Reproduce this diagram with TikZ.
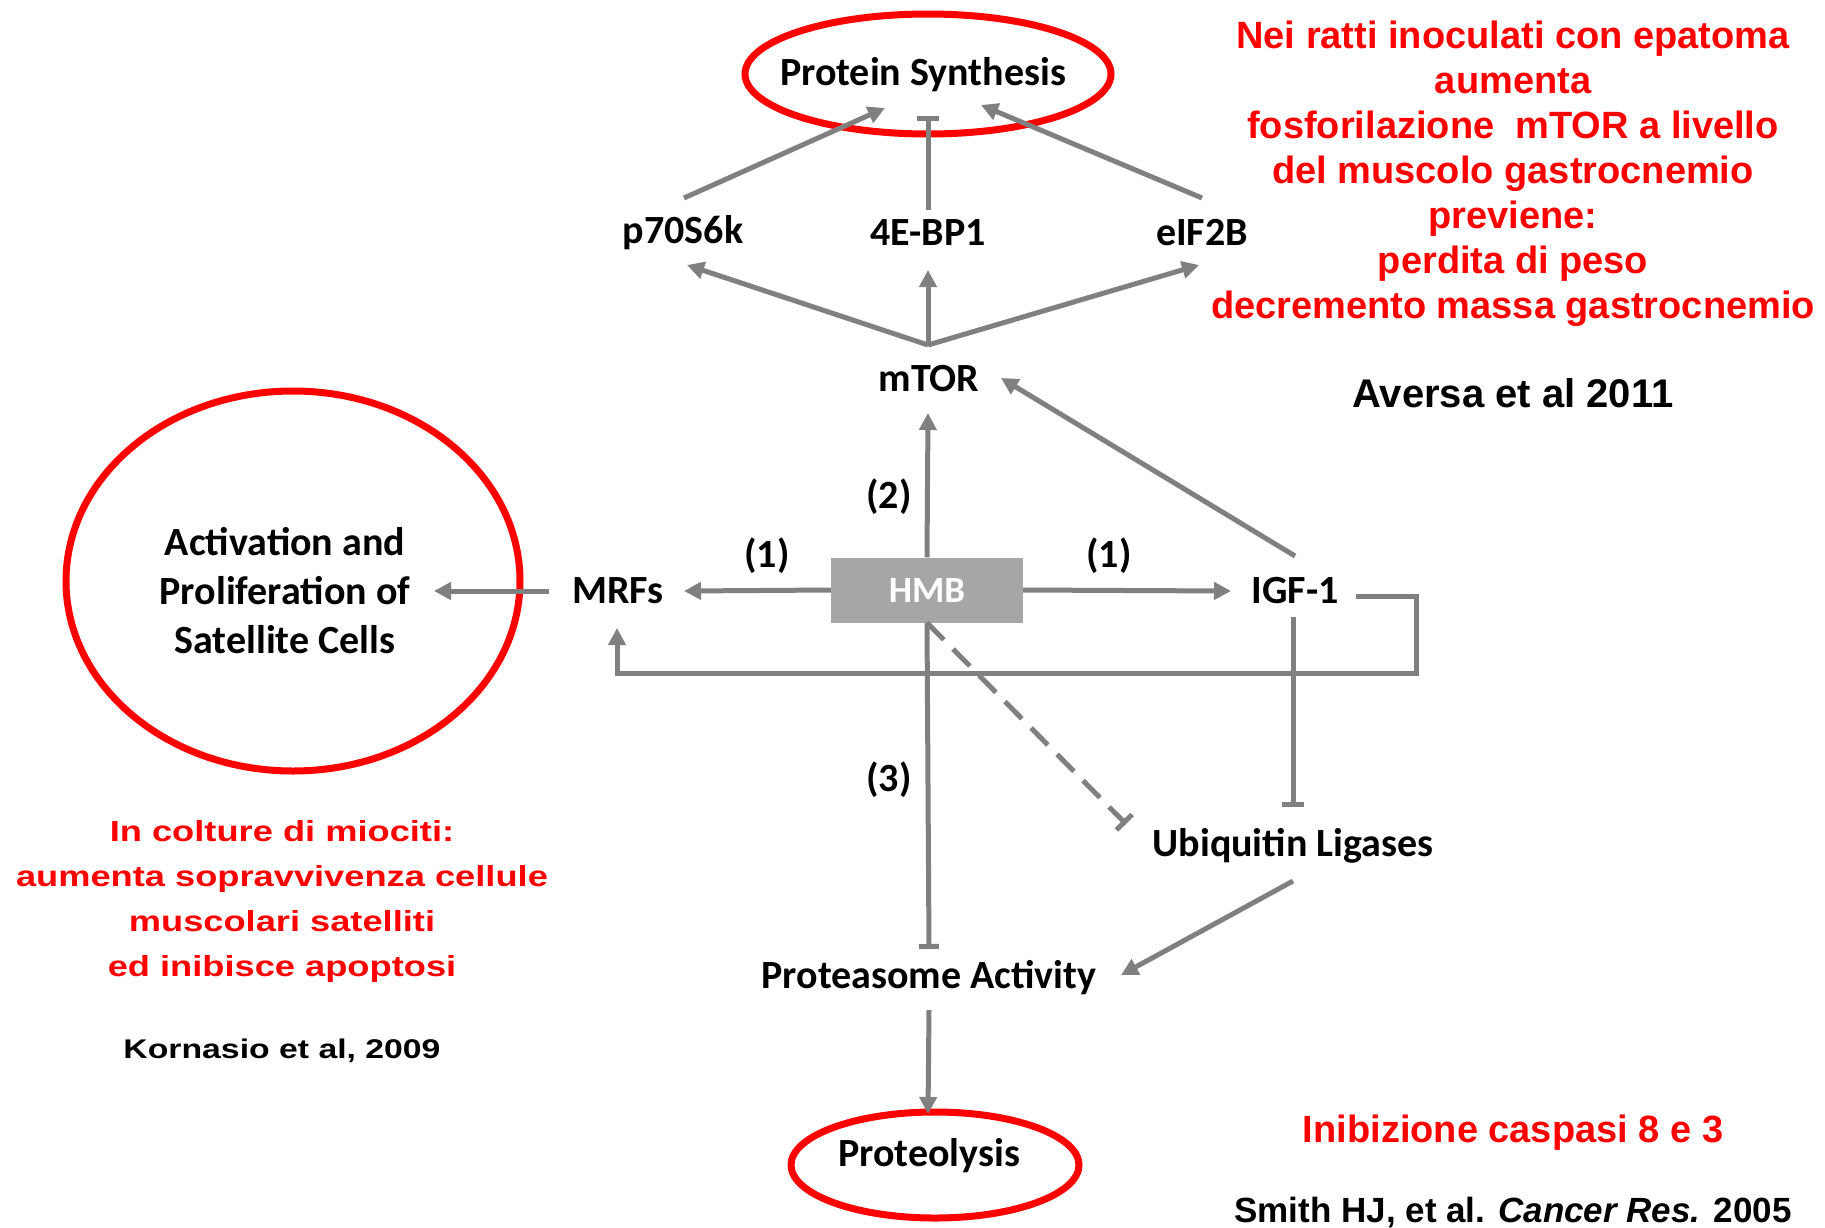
\documentclass[tikz,border=0pt]{standalone}
\usepackage{fontspec}
\setmainfont{Liberation Sans}
\newfontfamily\diagfont{Carlito}
\newfontfamily\widefont[FakeStretch=1.25]{Liberation Sans}
\usetikzlibrary{arrows.meta}
\definecolor{linkgray}{RGB}{128,128,128}
\definecolor{boxgray}{RGB}{166,166,166}

\begin{document}
\begin{tikzpicture}[
  x=1pt, y=-1pt,
  >={Triangle[length=17pt,width=17pt]},
  link/.style={draw=linkgray, line width=5pt},
  blunt/.style={link, -{Bar[width=22pt,line width=5pt]}},
  label/.style={font=\diagfont\bfseries\fontsize{40}{49}\selectfont, inner sep=0pt, align=center},
  hmbbox/.style={fill=boxgray, text=white, minimum width=192pt, minimum height=65pt,
    inner sep=0pt, font=\diagfont\bfseries\fontsize{37}{40}\selectfont},
  note/.style={font=\bfseries\fontsize{38}{45}\selectfont, text=red, align=center, inner sep=0pt},
  widenote/.style={font=\widefont\bfseries\fontsize{29}{45}\selectfont, text=red, align=center, inner sep=0pt},
  cite/.style={font=\bfseries\fontsize{40}{45}\selectfont, inner sep=0pt},
  ring/.style={draw=red, line width=7pt}
]
  \fill[white] (0,0) rectangle (1825,1227);
  \useasboundingbox (0,0) rectangle (1825,1227);

  % pathway nodes
  \node[label] (psyn) at (923,75) {Protein Synthesis};
  \node[label] (p70) at (683,233) {p70S6k};
  \node[label] (bp1) at (928,233) {4E-BP1};
  \node[label] (eif) at (1202,233) {eIF2B};
  \node[label] (mtor) at (929,379) {mTOR};
  \node[hmbbox] (hmb) at (927,590) {HMB};
  \node[label] (mrfs) at (618,591) {MRFs};
  \node[label] (igf) at (1295,591) {IGF-1};
  \node[label] (sat) at (285,591) {Activation and\\Proliferation of\\Satellite Cells};
  \node[label] (ubi) at (1293,846) {Ubiquitin Ligases};
  \node[label] (pasm) at (929,978) {Proteasome Activity};
  \node[label] (plys) at (929,1156) {Proteolysis};

  % numbered routes
  \node[label] (route1l) at (767,556) {(1)};
  \node[label] (route1r) at (1109,556) {(1)};
  \node[label] (route2) at (889,497) {(2)};
  \node[label] (route3) at (889,780) {(3)};

  % red rings
  \draw[ring] ([shift={(5,-1)}]psyn.center) ellipse [x radius=183pt, y radius=60pt];
  \draw[ring] ([shift={(8,-10)}]sat.center) ellipse [x radius=227pt, y radius=190pt];
  \draw[ring] ([shift={(6,9)}]plys.center) ellipse [x radius=144pt, y radius=53pt];

  % mTOR targets
  \coordinate (fork) at ([shift={(-1,-34)}]mtor.center);
  \draw[link,->] (fork) -- ([shift={(4,32)}]p70.center);
  \draw[link,->] (fork) -- ([shift={(0,37)}]bp1.center);
  \draw[link,->] (fork) -- ([shift={(-3,32)}]eif.center);
  \draw[link,->] ([shift={(1,-35)}]p70.center) -- ([shift={(-38,33)}]psyn.center);
  \draw[blunt] ([shift={(0,-23)}]bp1.center) -- ([shift={(5,41)}]psyn.center);
  \draw[link,->] ([shift={(0,-35)}]eif.center) -- ([shift={(58,30)}]psyn.center);

  % HMB routes
  \draw[link,->] (hmb.north) -- ([shift={(-1,34)}]mtor.center);
  \draw[link,->] (hmb.west) -- ([shift={(66,0)}]mrfs.center);
  \draw[link,->] (hmb.east) -- ([shift={(-64,0)}]igf.center);
  \draw[link,->] ([shift={(-69,0)}]mrfs.center) -- ([shift={(149,0)}]sat.center);
  \draw[link,->] ([shift={(0,-35)}]igf.center) -- ([shift={(72,-1)}]mtor.center);
  \draw[link,->] ([shift={(61,5)}]igf.center) -| ([shift={(121,82)}]igf.center)
    -| ([shift={(-1,37)}]mrfs.center);
  \draw[blunt] ([shift={(-2,26)}]igf.center) -- ([shift={(0,-39)}]ubi.center);
  \draw[blunt, dash pattern=on 24pt off 13pt] (hmb.south) -- ([shift={(-167,-22)}]ubi.center);
  \draw[link, -{Bar[width=20pt,line width=5pt]}] (hmb.south) -- ([shift={(0,-29)}]pasm.center);
  \draw[link,->] ([shift={(0,35)}]ubi.center) -- ([shift={(192,-3)}]pasm.center);
  \draw[link,->] ([shift={(0,32)}]pasm.center) -- ([shift={(-1,-42)}]plys.center);

  % annotations
  \node[note] (ratti) at (1513,174) {Nei ratti inoculati con epatoma\\aumenta\\fosforilazione\ \ mTOR a livello\\del muscolo gastrocnemio\\previene:\\perdita di peso\\decremento massa gastrocnemio};
  \node[cite] (aversa) at (1513,393) {Aversa et al 2011};
  \node[widenote] (colture) at (282,901) {In colture di miociti:\\aumenta sopravvivenza cellule\\muscolari satelliti\\ed inibisce apoptosi};
  \node[cite, font=\widefont\bfseries\fontsize{27}{30}\selectfont] (kornasio) at (282,1051) {Kornasio et al, 2009};
  \node[note] (caspasi) at (1513,1133) {Inibizione caspasi 8 e 3};
  \node[cite, font=\bfseries\fontsize{35}{40}\selectfont] (smith) at (1513,1213) {Smith HJ, et al. \textit{Cancer Res.} 2005};
\end{tikzpicture}
\end{document}
